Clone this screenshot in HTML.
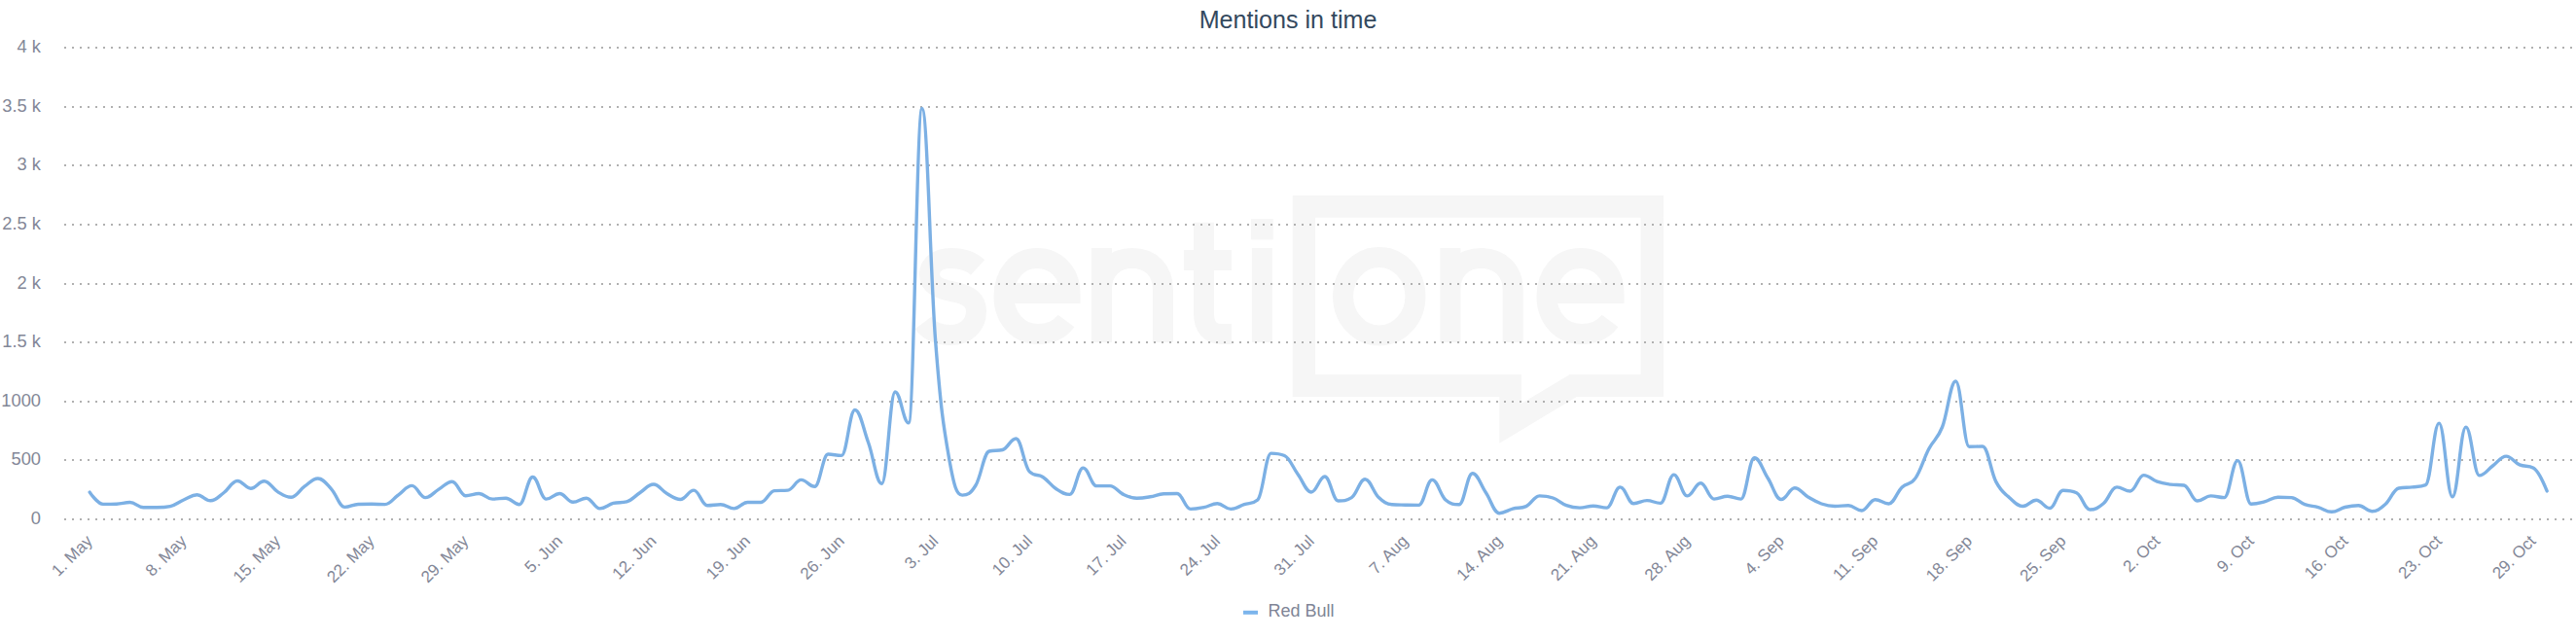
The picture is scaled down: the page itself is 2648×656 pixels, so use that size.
<!DOCTYPE html>
<html><head><meta charset="utf-8"><style>
html,body{margin:0;padding:0;background:#fff;}
svg{display:block;}
text{font-family:"Liberation Sans",sans-serif;}
.g{stroke:#b0b0b0;stroke-width:2;stroke-dasharray:2 6;fill:none;}
.yl{font-size:18.3px;fill:#838797;text-anchor:end;}
.xl{font-size:17px;fill:#838797;text-anchor:end;}
.wm{fill:#f6f6f6;}
</style></head><body>
<svg width="2648" height="656" viewBox="0 0 2648 656">
<rect width="2648" height="656" fill="#fff"/>
<g class="wm">
<path fill-rule="evenodd" d="M 1328.8 201 L 1709.9 201 L 1709.9 408 L 1620.7 408 L 1541.4 455.7 L 1541.4 408 L 1328.8 408 Z M 1352 223.8 L 1352 385 L 1563.8 385 L 1563.8 415 L 1613.8 385 L 1686.6 385 L 1686.6 223.8 Z"/>
<g fill="none" stroke="#f6f6f6" stroke-width="21">
<path d="M 1005 275 C 998 268.5, 989 265.6, 978 265.6 C 963 265.6, 955.5 273, 955.5 282 C 955.5 293, 965 297, 980 300 C 996 303, 1003.5 309, 1003.5 320 C 1003.5 335, 992 344.5, 977 344.5 C 965 344.5, 955 340, 949 332"/>
<path d="M 1032 301.5 L 1100 301.5 C 1100 280, 1085 265.5, 1066 265.5 C 1046 265.5, 1032 282, 1032 304.5 C 1032 327, 1047 343.5, 1067 343.5 C 1080 343.5, 1090 338, 1096 330"/>
<path d="M 1132.4 255 L 1132.4 352 M 1132.4 298 C 1132.4 277, 1146 265.5, 1164 265.5 C 1183 265.5, 1195.4 278, 1195.4 298 L 1195.4 352"/>
<path d="M 1237.5 228.8 L 1237.5 322 C 1237.5 336, 1244 343.5, 1256 343.5 L 1266 343.5 M 1217 267.5 L 1266 267.5"/>
<path d="M 1297.4 255 L 1297.4 352"/>
<ellipse cx="1417.75" cy="304.7" rx="37.15" ry="40.3"/>
<path d="M 1490.9 255 L 1490.9 352 M 1490.9 298 C 1490.9 277, 1504.5 265.5, 1522.5 265.5 C 1541.5 265.5, 1555.2 278, 1555.2 298 L 1555.2 352"/>
<path d="M 1590 301.5 L 1659 301.5 C 1659 280, 1644 265.5, 1624.6 265.5 C 1604 265.5, 1590 282, 1590 304.5 C 1590 327, 1605 343.5, 1625.6 343.5 C 1639 343.5, 1649 338, 1655 330"/>
</g>
<rect x="1286.1" y="225" width="22.6" height="21.4"/>
</g>
<path d="M 66 534.0 L 2648 534.0" class="g"/>
<path d="M 66 473.0 L 2648 473.0" class="g"/>
<path d="M 66 413.0 L 2648 413.0" class="g"/>
<path d="M 66 352.0 L 2648 352.0" class="g"/>
<path d="M 66 292.0 L 2648 292.0" class="g"/>
<path d="M 66 231.0 L 2648 231.0" class="g"/>
<path d="M 66 170.0 L 2648 170.0" class="g"/>
<path d="M 66 110.0 L 2648 110.0" class="g"/>
<path d="M 66 49.0 L 2648 49.0" class="g"/>
<text x="42" y="538.8" class="yl">0</text>
<text x="42" y="477.8" class="yl">500</text>
<text x="42" y="417.8" class="yl">1000</text>
<text x="42" y="356.8" class="yl">1.5 k</text>
<text x="42" y="296.8" class="yl">2 k</text>
<text x="42" y="235.8" class="yl">2.5 k</text>
<text x="42" y="174.8" class="yl">3 k</text>
<text x="42" y="114.8" class="yl">3.5 k</text>
<text x="42" y="53.8" class="yl">4 k</text>
<text x="96.1" y="557.3" transform="rotate(-45 96.1 557.3)" class="xl">1. May</text>
<text x="192.7" y="557.3" transform="rotate(-45 192.7 557.3)" class="xl">8. May</text>
<text x="289.3" y="557.3" transform="rotate(-45 289.3 557.3)" class="xl">15. May</text>
<text x="385.9" y="557.3" transform="rotate(-45 385.9 557.3)" class="xl">22. May</text>
<text x="482.5" y="557.3" transform="rotate(-45 482.5 557.3)" class="xl">29. May</text>
<text x="579.1" y="557.3" transform="rotate(-45 579.1 557.3)" class="xl">5. Jun</text>
<text x="675.7" y="557.3" transform="rotate(-45 675.7 557.3)" class="xl">12. Jun</text>
<text x="772.3" y="557.3" transform="rotate(-45 772.3 557.3)" class="xl">19. Jun</text>
<text x="868.9" y="557.3" transform="rotate(-45 868.9 557.3)" class="xl">26. Jun</text>
<text x="965.5" y="557.3" transform="rotate(-45 965.5 557.3)" class="xl">3. Jul</text>
<text x="1062.1" y="557.3" transform="rotate(-45 1062.1 557.3)" class="xl">10. Jul</text>
<text x="1158.7" y="557.3" transform="rotate(-45 1158.7 557.3)" class="xl">17. Jul</text>
<text x="1255.3" y="557.3" transform="rotate(-45 1255.3 557.3)" class="xl">24. Jul</text>
<text x="1351.9" y="557.3" transform="rotate(-45 1351.9 557.3)" class="xl">31. Jul</text>
<text x="1448.5" y="557.3" transform="rotate(-45 1448.5 557.3)" class="xl">7. Aug</text>
<text x="1545.1" y="557.3" transform="rotate(-45 1545.1 557.3)" class="xl">14. Aug</text>
<text x="1641.7" y="557.3" transform="rotate(-45 1641.7 557.3)" class="xl">21. Aug</text>
<text x="1738.3" y="557.3" transform="rotate(-45 1738.3 557.3)" class="xl">28. Aug</text>
<text x="1834.9" y="557.3" transform="rotate(-45 1834.9 557.3)" class="xl">4. Sep</text>
<text x="1931.5" y="557.3" transform="rotate(-45 1931.5 557.3)" class="xl">11. Sep</text>
<text x="2028.1" y="557.3" transform="rotate(-45 2028.1 557.3)" class="xl">18. Sep</text>
<text x="2124.7" y="557.3" transform="rotate(-45 2124.7 557.3)" class="xl">25. Sep</text>
<text x="2221.3" y="557.3" transform="rotate(-45 2221.3 557.3)" class="xl">2. Oct</text>
<text x="2317.9" y="557.3" transform="rotate(-45 2317.9 557.3)" class="xl">9. Oct</text>
<text x="2414.5" y="557.3" transform="rotate(-45 2414.5 557.3)" class="xl">16. Oct</text>
<text x="2511.1" y="557.3" transform="rotate(-45 2511.1 557.3)" class="xl">23. Oct</text>
<text x="2607.7" y="557.3" transform="rotate(-45 2607.7 557.3)" class="xl">29. Oct</text>
<path d="M 92.20 506.10 C 92.20 506.10 100.48 518.40 106.00 518.40 C 111.52 518.40 114.28 518.40 119.80 518.20 C 125.32 518.00 128.08 516.50 133.60 516.50 C 139.12 516.50 141.88 521.80 147.40 521.80 C 152.92 521.80 155.68 521.80 161.20 521.80 C 166.72 521.80 169.48 521.80 175.00 520.60 C 180.52 519.40 183.28 516.36 188.80 514.00 C 194.32 511.64 197.08 508.80 202.60 508.80 C 208.12 508.80 210.88 514.80 216.40 514.80 C 221.92 514.80 224.68 510.56 230.20 506.50 C 235.72 502.44 238.48 494.50 244.00 494.50 C 249.52 494.50 252.28 502.20 257.80 502.20 C 263.32 502.20 266.08 494.70 271.60 494.70 C 277.12 494.70 279.88 502.28 285.40 505.60 C 290.92 508.92 293.68 511.30 299.20 511.30 C 304.72 511.30 307.48 504.06 313.00 500.20 C 318.52 496.34 321.28 492.00 326.80 492.00 C 332.32 492.00 335.08 496.92 340.60 502.80 C 346.12 508.68 348.88 521.40 354.40 521.40 C 359.92 521.40 362.68 518.70 368.20 518.50 C 373.72 518.30 376.48 518.30 382.00 518.30 C 387.52 518.30 390.28 518.60 395.80 518.60 C 401.32 518.60 404.08 512.64 409.60 508.80 C 415.12 504.96 417.88 499.40 423.40 499.40 C 428.92 499.40 431.68 511.60 437.20 511.60 C 442.72 511.60 445.48 506.38 451.00 503.10 C 456.52 499.82 459.28 495.20 464.80 495.20 C 470.32 495.20 473.08 509.70 478.60 509.70 C 484.12 509.70 486.88 507.50 492.40 507.50 C 497.92 507.50 500.68 513.10 506.20 513.10 C 511.72 513.10 514.48 512.20 520.00 512.20 C 525.52 512.20 528.28 518.70 533.80 518.70 C 539.32 518.70 542.08 490.50 547.60 490.50 C 553.12 490.50 555.88 513.10 561.40 513.10 C 566.92 513.10 569.68 507.50 575.20 507.50 C 580.72 507.50 583.48 516.30 589.00 516.30 C 594.52 516.30 597.28 512.20 602.80 512.20 C 608.32 512.20 611.08 522.90 616.60 522.90 C 622.12 522.90 624.88 518.80 630.40 517.40 C 635.92 516.00 638.68 517.40 644.20 515.90 C 649.72 514.40 652.48 510.08 658.00 506.50 C 663.52 502.92 666.28 498.00 671.80 498.00 C 677.32 498.00 680.08 504.40 685.60 507.50 C 691.12 510.60 693.88 513.50 699.40 513.50 C 704.92 513.50 707.68 504.10 713.20 504.10 C 718.72 504.10 721.48 519.70 727.00 519.70 C 732.52 519.70 735.28 518.70 740.80 518.70 C 746.32 518.70 749.08 522.90 754.60 522.90 C 760.12 522.90 762.88 516.50 768.40 516.50 C 773.92 516.50 776.68 516.50 782.20 516.50 C 787.72 516.50 790.48 505.10 796.00 504.60 C 801.52 504.10 804.28 504.60 809.80 504.10 C 815.32 503.60 818.08 493.40 823.60 493.40 C 829.12 493.40 831.88 500.30 837.40 500.30 C 842.92 500.30 845.68 467.00 851.20 467.00 C 856.72 467.00 859.48 468.40 865.00 468.40 C 870.52 468.40 873.28 421.50 878.80 421.50 C 884.32 421.50 887.08 439.84 892.60 455.00 C 898.12 470.16 900.88 497.30 906.40 497.30 C 911.92 497.30 914.68 403.00 920.20 403.00 C 925.72 403.00 928.48 434.80 934.00 434.80 C 939.52 434.80 942.28 111.50 947.80 111.50 C 953.32 111.50 956.08 278.30 961.60 350.00 C 967.12 421.70 969.88 438.18 975.40 470.00 C 980.92 501.82 983.68 509.10 989.20 509.10 C 994.72 509.10 997.48 508.02 1003.00 499.00 C 1008.52 489.98 1011.28 465.50 1016.80 464.00 C 1022.32 462.50 1025.08 464.00 1030.60 462.50 C 1036.12 461.00 1038.88 451.00 1044.40 451.00 C 1049.92 451.00 1052.68 479.30 1058.20 484.90 C 1063.72 490.50 1066.48 486.92 1072.00 490.50 C 1077.52 494.08 1080.28 499.22 1085.80 502.80 C 1091.32 506.38 1094.08 508.40 1099.60 508.40 C 1105.12 508.40 1107.88 481.10 1113.40 481.10 C 1118.92 481.10 1121.68 499.60 1127.20 499.60 C 1132.72 499.60 1135.48 499.60 1141.00 499.60 C 1146.52 499.60 1149.28 505.88 1154.80 508.40 C 1160.32 510.92 1163.08 512.20 1168.60 512.20 C 1174.12 512.20 1176.88 511.68 1182.40 510.80 C 1187.92 509.92 1190.68 508.10 1196.20 507.80 C 1201.72 507.50 1204.48 507.50 1210.00 507.50 C 1215.52 507.50 1218.28 523.40 1223.80 523.40 C 1229.32 523.40 1232.08 522.72 1237.60 521.60 C 1243.12 520.48 1245.88 517.80 1251.40 517.80 C 1256.92 517.80 1259.68 523.40 1265.20 523.40 C 1270.72 523.40 1273.48 520.58 1279.00 518.70 C 1284.52 516.82 1287.28 518.70 1292.80 514.00 C 1298.32 509.30 1301.08 466.10 1306.60 466.10 C 1312.12 466.10 1314.88 466.10 1320.40 468.50 C 1325.92 470.90 1328.68 480.20 1334.20 487.70 C 1339.72 495.20 1342.48 506.00 1348.00 506.00 C 1353.52 506.00 1356.28 490.00 1361.80 490.00 C 1367.32 490.00 1370.08 515.00 1375.60 515.00 C 1381.12 515.00 1383.88 515.00 1389.40 511.60 C 1394.92 508.20 1397.68 492.80 1403.20 492.80 C 1408.72 492.80 1411.48 506.00 1417.00 511.20 C 1422.52 516.40 1425.28 518.40 1430.80 518.80 C 1436.32 519.20 1439.08 519.08 1444.60 519.20 C 1450.12 519.32 1452.88 519.40 1458.40 519.40 C 1463.92 519.40 1466.68 493.40 1472.20 493.40 C 1477.72 493.40 1480.48 509.20 1486.00 514.00 C 1491.52 518.80 1494.28 518.80 1499.80 518.80 C 1505.32 518.80 1508.08 486.80 1513.60 486.80 C 1519.12 486.80 1521.88 498.32 1527.40 506.50 C 1532.92 514.68 1535.68 527.70 1541.20 527.70 C 1546.72 527.70 1549.48 524.52 1555.00 523.10 C 1560.52 521.68 1563.28 523.10 1568.80 520.60 C 1574.32 518.10 1577.08 509.90 1582.60 509.90 C 1588.12 509.90 1590.88 510.04 1596.40 512.00 C 1601.92 513.96 1604.68 517.68 1610.20 519.70 C 1615.72 521.72 1618.48 522.10 1624.00 522.10 C 1629.52 522.10 1632.28 520.20 1637.80 520.20 C 1643.32 520.20 1646.08 522.10 1651.60 522.10 C 1657.12 522.10 1659.88 500.90 1665.40 500.90 C 1670.92 500.90 1673.68 517.80 1679.20 517.80 C 1684.72 517.80 1687.48 514.60 1693.00 514.60 C 1698.52 514.60 1701.28 517.40 1706.80 517.40 C 1712.32 517.40 1715.08 488.10 1720.60 488.10 C 1726.12 488.10 1728.88 509.90 1734.40 509.90 C 1739.92 509.90 1742.68 496.70 1748.20 496.70 C 1753.72 496.70 1756.48 513.10 1762.00 513.10 C 1767.52 513.10 1770.28 510.30 1775.80 510.30 C 1781.32 510.30 1784.08 513.10 1789.60 513.10 C 1795.12 513.10 1797.88 470.80 1803.40 470.80 C 1808.92 470.80 1811.68 482.96 1817.20 491.50 C 1822.72 500.04 1825.48 513.50 1831.00 513.50 C 1836.52 513.50 1839.28 501.80 1844.80 501.80 C 1850.32 501.80 1853.08 507.76 1858.60 511.00 C 1864.12 514.24 1866.88 516.10 1872.40 518.00 C 1877.92 519.90 1880.68 520.50 1886.20 520.50 C 1891.72 520.50 1894.48 519.70 1900.00 519.70 C 1905.52 519.70 1908.28 525.00 1913.80 525.00 C 1919.32 525.00 1922.08 513.70 1927.60 513.70 C 1933.12 513.70 1935.88 518.00 1941.40 518.00 C 1946.92 518.00 1949.68 506.28 1955.20 501.00 C 1960.72 495.72 1963.48 499.50 1969.00 491.60 C 1974.52 483.70 1977.28 472.02 1982.80 461.50 C 1988.32 450.98 1991.08 452.90 1996.60 439.00 C 2002.12 425.10 2004.88 392.00 2010.40 392.00 C 2015.92 392.00 2018.68 459.20 2024.20 459.20 C 2029.72 459.20 2032.48 459.00 2038.00 459.00 C 2043.52 459.00 2046.28 484.86 2051.80 495.40 C 2057.32 505.94 2060.08 506.68 2065.60 511.70 C 2071.12 516.72 2073.88 520.50 2079.40 520.50 C 2084.92 520.50 2087.68 514.20 2093.20 514.20 C 2098.72 514.20 2101.48 522.50 2107.00 522.50 C 2112.52 522.50 2115.28 504.20 2120.80 504.20 C 2126.32 504.20 2129.08 504.20 2134.60 506.70 C 2140.12 509.20 2142.88 524.00 2148.40 524.00 C 2153.92 524.00 2156.68 522.42 2162.20 517.80 C 2167.72 513.18 2170.48 500.90 2176.00 500.90 C 2181.52 500.90 2184.28 505.00 2189.80 505.00 C 2195.32 505.00 2198.08 488.60 2203.60 488.60 C 2209.12 488.60 2211.88 493.30 2217.40 495.20 C 2222.92 497.10 2225.68 497.34 2231.20 498.10 C 2236.72 498.86 2239.48 498.10 2245.00 499.00 C 2250.52 499.90 2253.28 515.00 2258.80 515.00 C 2264.32 515.00 2267.08 509.90 2272.60 509.90 C 2278.12 509.90 2280.88 511.60 2286.40 511.60 C 2291.92 511.60 2294.68 473.60 2300.20 473.60 C 2305.72 473.60 2308.48 518.20 2314.00 518.20 C 2319.52 518.20 2322.28 517.30 2327.80 515.90 C 2333.32 514.50 2336.08 511.20 2341.60 511.20 C 2347.12 511.20 2349.88 511.20 2355.40 511.60 C 2360.92 512.00 2363.68 516.70 2369.20 518.70 C 2374.72 520.70 2377.48 520.08 2383.00 521.60 C 2388.52 523.12 2391.28 526.30 2396.80 526.30 C 2402.32 526.30 2405.08 522.82 2410.60 521.50 C 2416.12 520.18 2418.88 519.70 2424.40 519.70 C 2429.92 519.70 2432.68 525.70 2438.20 525.70 C 2443.72 525.70 2446.48 523.24 2452.00 518.50 C 2457.52 513.76 2460.28 503.10 2465.80 502.00 C 2471.32 500.90 2474.08 501.56 2479.60 500.90 C 2485.12 500.24 2487.88 500.90 2493.40 498.70 C 2498.92 496.50 2501.68 435.10 2507.20 435.10 C 2512.72 435.10 2515.48 510.80 2521.00 510.80 C 2526.52 510.80 2529.28 439.10 2534.80 439.10 C 2540.32 439.10 2543.08 488.90 2548.60 488.90 C 2554.12 488.90 2556.88 482.96 2562.40 479.00 C 2567.92 475.04 2570.68 469.10 2576.20 469.10 C 2581.72 469.10 2584.48 475.53 2590.00 477.90 C 2595.75 480.37 2598.62 477.90 2604.37 481.20 C 2609.89 484.50 2618.17 504.90 2618.17 504.90" fill="none" stroke="#7cb0e4" stroke-width="3.4" stroke-linecap="round" stroke-linejoin="round"/>
<text x="1324" y="29.0" style="font-size:25.1px;fill:#34495e;text-anchor:middle;">Mentions in time</text>
<path d="M 1278 629.8 L 1293 629.8" stroke="#7cb5ec" stroke-width="4"/>
<text x="1303.5" y="634.3" style="font-size:18px;fill:#7f8596;">Red Bull</text>
</svg>
</body></html>
